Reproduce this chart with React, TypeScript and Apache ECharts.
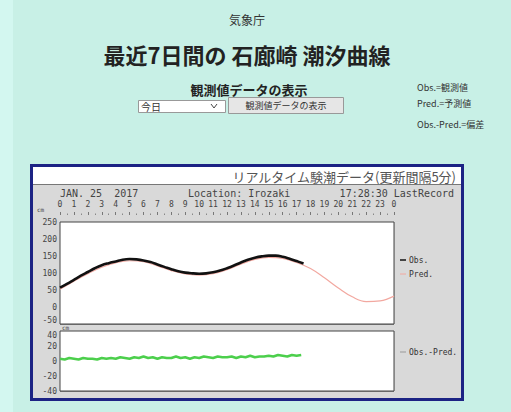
import React, { useEffect, useRef } from "react";
import * as echarts from "echarts";

// ---- data ----
const hourTicks = [0, 1, 2, 3, 4, 5, 6, 7, 8, 9, 10, 11, 12, 13, 14, 15, 16, 17, 18, 19, 20, 21, 22, 23, 24];
// predicted tide (cm), hourly 0..24
const predValues = [52, 76, 98, 117, 130, 136, 133, 121, 107, 97, 94, 98, 110, 126, 140, 146, 143, 131, 113, 86, 56, 30, 16, 18, 32];
// observed tide (cm), every 30 min from 0:00 to 17:30
const obsValues = [57, 68, 80, 92, 103, 114, 123, 129, 134, 139, 141, 140, 137, 132, 125, 118, 111, 105, 101, 99, 98, 99, 102, 107, 114, 122, 131, 139, 145, 149, 151, 151, 148, 142, 135, 128];
// Obs.-Pred. (cm), every 20 min from 0:00
const diffValues = [3, 2, 4, 3, 2, 4, 3, 3, 2, 4, 3, 4, 3, 5, 4, 3, 5, 4, 6, 4, 5, 3, 5, 4, 4, 6, 4, 5, 3, 5, 4, 6, 5, 4, 6, 5, 5, 6, 4, 6, 5, 7, 5, 6, 6, 7, 6, 8, 7, 6, 8, 7, 8];
const upperTicks = [-50, 0, 50, 100, 150, 200, 250];
const lowerTicks = [-40, -20, 0, 20, 40];

const JP = '"Noto Sans CJK JP", "Noto Sans", sans-serif';
const MONO = '"DejaVu Sans Mono", "Liberation Mono", monospace';

export default function App() {
  const ref = useRef<HTMLDivElement>(null);
  useEffect(() => {
    if (!ref.current) return;
    const chart = echarts.init(ref.current, null, { renderer: "svg" });
    const predData = predValues.map((v, i) => [hourTicks[i], v]);
    const obsData = obsValues.map((v, i) => [i * 0.5, v]);
    const diffData = diffValues.map((v, i) => [i / 3, v]);

    const txt = (text: string, x: number, y: number, size: number, opts: any = {}) => ({
      type: "text",
      z: 100,
      silent: true,
      style: {
        text,
        x,
        y,
        fill: opts.fill || "#333",
        font: `${opts.weight || "normal"} ${size}px ${opts.family || JP}`,
        textAlign: opts.align || "left",
        textVerticalAlign: "middle",
      },
    });

    const option: any = {
      animation: false,
      backgroundColor: "#c8f0e6",
      grid: [
        { left: 60, top: 222, width: 334, height: 102, show: true, backgroundColor: "#ffffff", borderColor: "#444", borderWidth: 1, z: 2 },
        { left: 60, top: 331, width: 334, height: 60, show: true, backgroundColor: "#ffffff", borderColor: "#444", borderWidth: 1, z: 2 },
      ],
      xAxis: [
        {
          type: "value", gridIndex: 0, position: "top", min: 0, max: 24, interval: 1,
          axisLine: { show: false }, axisTick: { show: false },
          axisLabel: { margin: 14, fontSize: 8, fontFamily: MONO, color: "#444", formatter: (v: number) => (v === 24 ? "0" : String(v)) },
          splitLine: { show: true, lineStyle: { color: "#c8c8c8", width: 1 } },
          minorTick: { show: false, splitNumber: 3 },
          minorSplitLine: { show: true, lineStyle: { color: "#dddddd", width: 1 } },
        },
        {
          type: "value", gridIndex: 0, position: "top", offset: 7, min: 0, max: 24, interval: 1,
          axisLine: { show: false },
          axisTick: { show: true, length: 3, lineStyle: { color: "#777" } },
          minorTick: { show: true, splitNumber: 2, length: 1.5, lineStyle: { color: "#888" } },
          axisLabel: { show: false }, splitLine: { show: false },
        },
        {
          type: "value", gridIndex: 1, min: 0, max: 24, interval: 1,
          axisLine: { show: false }, axisTick: { show: false }, axisLabel: { show: false },
          splitLine: { show: true, lineStyle: { color: "#c8c8c8", width: 1 } },
          minorTick: { show: false, splitNumber: 3 },
          minorSplitLine: { show: true, lineStyle: { color: "#dddddd", width: 1 } },
        },
      ],
      yAxis: [
        {
          type: "value", gridIndex: 0, min: upperTicks[0], max: upperTicks[upperTicks.length - 1], interval: 50,
          axisLine: { show: false }, axisTick: { show: false },
          axisLabel: { margin: 3, fontSize: 8, fontFamily: MONO, color: "#444", verticalAlignMinLabel: "bottom" },
          splitLine: { show: true, lineStyle: { color: "#8a8a8a", width: 1 } },
          minorTick: { show: false, splitNumber: 5 },
          minorSplitLine: { show: true, lineStyle: { color: "#dddddd", width: 1 } },
        },
        {
          type: "value", gridIndex: 1, min: lowerTicks[0], max: lowerTicks[lowerTicks.length - 1], interval: 20,
          axisLine: { show: false }, axisTick: { show: false },
          axisLabel: { margin: 3, fontSize: 8, fontFamily: MONO, color: "#444", verticalAlignMaxLabel: "top" },
          splitLine: { show: true, lineStyle: { color: "#8a8a8a", width: 1 } },
          minorTick: { show: false, splitNumber: 4 },
          minorSplitLine: { show: true, lineStyle: { color: "#dddddd", width: 1 } },
        },
      ],
      series: [
        {
          name: "Pred.", type: "line", xAxisIndex: 0, yAxisIndex: 0, data: predData, smooth: 0.4,
          showSymbol: false, lineStyle: { color: "#f2a8a0", width: 1.2 }, z: 3,
        },
        {
          name: "Obs.", type: "line", xAxisIndex: 0, yAxisIndex: 0, data: obsData, smooth: 0.4,
          showSymbol: false, lineStyle: { color: "#111", width: 2.6 }, z: 4,
        },
        {
          name: "Obs.-Pred.", type: "line", xAxisIndex: 2, yAxisIndex: 1, data: diffData,
          showSymbol: false, lineStyle: { color: "#4ccf4c", width: 2.6 }, z: 4,
        },
      ],
      graphic: {
        elements: [
          { type: "rect", z: -10, silent: true, shape: { x: 0, y: 0, width: 13, height: 412 }, style: { fill: "#d3f7f0" } },
          // panel
          { type: "rect", z: -5, silent: true, shape: { x: 31.5, y: 165.5, width: 431, height: 234 }, style: { fill: "#d9d9d9", stroke: "#1c2384", lineWidth: 3 } },
          { type: "rect", z: -4, silent: true, shape: { x: 33, y: 167, width: 428, height: 17 }, style: { fill: "#ffffff" } },
          { type: "line", z: -4, silent: true, shape: { x1: 33, y1: 184.5, x2: 461, y2: 184.5 }, style: { stroke: "#777", lineWidth: 1 } },
          // select box
          { type: "rect", z: 10, silent: true, shape: { x: 138.5, y: 100.5, width: 87, height: 12 }, style: { fill: "#ffffff", stroke: "#999", lineWidth: 1 } },
          { type: "polyline", z: 11, silent: true, shape: { points: [[211, 104], [214, 108], [217, 104]] }, style: { stroke: "#444", lineWidth: 1, fill: null } },
          // button
          { type: "rect", z: 10, silent: true, shape: { x: 228.5, y: 97.5, width: 115, height: 16 }, style: { fill: "#e6e6e6", stroke: "#999", lineWidth: 1 } },
          // legend dashes
          { type: "line", z: 20, silent: true, shape: { x1: 400, y1: 260, x2: 406, y2: 260 }, style: { stroke: "#111", lineWidth: 1.5 } },
          { type: "line", z: 20, silent: true, shape: { x1: 400, y1: 274, x2: 406, y2: 274 }, style: { stroke: "#f2a8a0", lineWidth: 1 } },
          { type: "line", z: 20, silent: true, shape: { x1: 400, y1: 352, x2: 406, y2: 352 }, style: { stroke: "#999", lineWidth: 1 } },
          txt("気象庁", 247, 19, 12, { fill: "#333", align: "center" }),
          txt("最近7日間の 石廊崎 潮汐曲線", 247, 54, 22, { fill: "#222", align: "center", weight: "bold" }),
          txt("観測値データの表示", 249, 89, 13, { fill: "#222", weight: "bold", align: "center" }),
          txt("今日", 141, 106.5, 10, { fill: "#333" }),
          txt("観測値データの表示", 286, 105.5, 9, { fill: "#333", align: "center" }),
          txt("Obs.=観測値", 417, 87, 9, { fill: "#333" }),
          txt("Pred.=予測値", 417, 103, 9, { fill: "#333" }),
          txt("Obs.-Pred.=偏差", 417, 124, 9, { fill: "#333" }),
          txt("リアルタイム験潮データ(更新間隔5分)", 456, 176, 13, { fill: "#555", align: "right" }),
          txt("JAN. 25  2017", 60, 193, 10, { family: MONO, fill: "#444" }),
          txt("Location: Irozaki", 188, 193, 10, { family: MONO, fill: "#444" }),
          txt("17:28:30 LastRecord", 454, 193, 10, { family: MONO, fill: "#444", align: "right" }),
          txt("cm", 37, 209, 6, { family: MONO, fill: "#444" }),
          txt("cm", 62, 327.5, 6, { family: MONO, fill: "#444" }),
          txt("Obs.", 409, 260, 8, { family: MONO, fill: "#333" }),
          txt("Pred.", 409, 274, 8, { family: MONO, fill: "#333" }),
          txt("Obs.-Pred.", 409, 352, 8, { family: MONO, fill: "#333" }),
        ],
      },
    };
    chart.setOption(option);
    return () => chart.dispose();
  }, []);
  return <div ref={ref} style={{ position: "fixed", left: 0, top: 0, width: 511, height: 412 }} />;
}
